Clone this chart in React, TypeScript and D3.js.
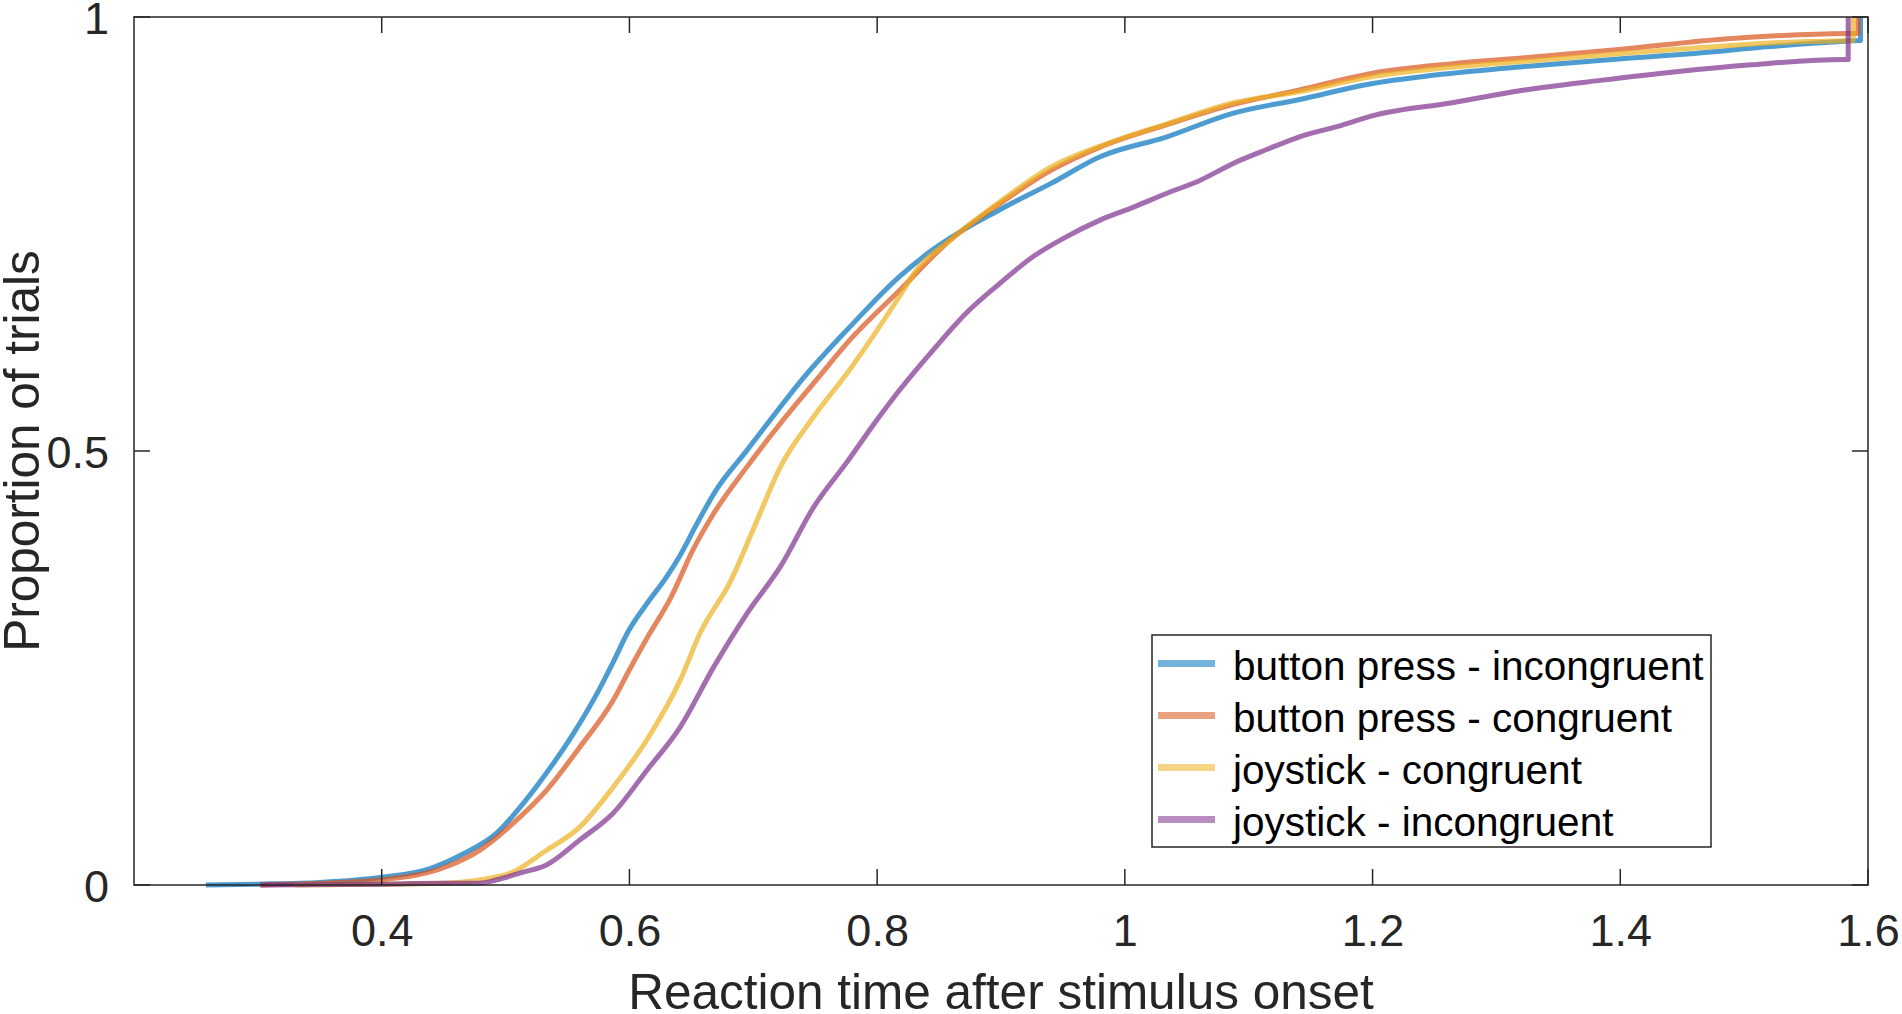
import React, { useRef, useEffect } from 'react';
import * as d3 from 'd3';

// cumulative proportion of trials vs reaction time
const bpIncongRT = [0.258, 0.30, 0.35, 0.40, 0.439, 0.466, 0.493, 0.512, 0.533, 0.555, 0.574, 0.587, 0.599, 0.614, 0.630, 0.641, 0.654, 0.670, 0.695, 0.716, 0.738, 0.778, 0.818, 0.845, 0.899, 0.940, 0.980, 1.034, 1.087, 1.141, 1.199, 1.263, 1.323, 1.401, 1.460, 1.521, 1.581, 1.594, 1.594];
const bpIncongP = [0, 0.001, 0.003, 0.009, 0.019, 0.036, 0.060, 0.090, 0.129, 0.175, 0.221, 0.257, 0.292, 0.324, 0.355, 0.380, 0.415, 0.455, 0.501, 0.540, 0.580, 0.643, 0.701, 0.732, 0.778, 0.808, 0.839, 0.862, 0.889, 0.905, 0.923, 0.935, 0.943, 0.952, 0.958, 0.966, 0.972, 0.973, 1];

const bpCongRT = [0.302, 0.35, 0.40, 0.452, 0.479, 0.506, 0.533, 0.560, 0.587, 0.600, 0.614, 0.633, 0.652, 0.668, 0.695, 0.722, 0.751, 0.778, 0.818, 0.859, 0.899, 0.940, 0.980, 1.034, 1.087, 1.141, 1.199, 1.263, 1.323, 1.401, 1.487, 1.536, 1.585, 1.592, 1.592];
const bpCongP = [0, 0.002, 0.006, 0.021, 0.040, 0.071, 0.109, 0.159, 0.213, 0.248, 0.284, 0.330, 0.388, 0.428, 0.482, 0.532, 0.582, 0.628, 0.685, 0.743, 0.785, 0.823, 0.850, 0.876, 0.899, 0.916, 0.935, 0.946, 0.953, 0.963, 0.975, 0.979, 0.981, 0.981, 1];

const joyCongRT = [0.33, 0.40, 0.45, 0.48, 0.506, 0.533, 0.560, 0.587, 0.614, 0.641, 0.657, 0.682, 0.703, 0.722, 0.749, 0.778, 0.818, 0.832, 0.859, 0.899, 0.940, 0.993, 1.034, 1.087, 1.141, 1.199, 1.263, 1.323, 1.401, 1.487, 1.536, 1.588, 1.588];
const joyCongP = [0, 0.001, 0.002, 0.006, 0.015, 0.040, 0.067, 0.113, 0.167, 0.236, 0.290, 0.351, 0.420, 0.482, 0.540, 0.594, 0.678, 0.709, 0.743, 0.787, 0.827, 0.858, 0.877, 0.901, 0.914, 0.931, 0.942, 0.949, 0.958, 0.967, 0.971, 0.973, 1];

const joyIncongRT = [0.302, 0.40, 0.45, 0.479, 0.493, 0.512, 0.533, 0.560, 0.587, 0.614, 0.641, 0.668, 0.695, 0.722, 0.749, 0.775, 0.802, 0.818, 0.845, 0.872, 0.899, 0.926, 0.953, 0.980, 1.007, 1.034, 1.061, 1.087, 1.114, 1.141, 1.172, 1.202, 1.263, 1.323, 1.384, 1.445, 1.506, 1.581, 1.584, 1.584];
const joyIncongP = [0, 0.001, 0.002, 0.002, 0.006, 0.014, 0.023, 0.052, 0.083, 0.132, 0.182, 0.251, 0.313, 0.367, 0.436, 0.486, 0.540, 0.570, 0.616, 0.659, 0.693, 0.724, 0.747, 0.766, 0.781, 0.797, 0.812, 0.831, 0.847, 0.862, 0.874, 0.887, 0.901, 0.916, 0.927, 0.937, 0.945, 0.951, 0.951, 1];

const seriesNames = ['button press - incongruent', 'button press - congruent', 'joystick - congruent', 'joystick - incongruent'];
const seriesColors = ['#0072BD', '#D95319', '#EDB120', '#7E2F8E'];
const xTicks = [0.4, 0.6, 0.8, 1, 1.2, 1.4, 1.6];
const yTicks = [0, 0.5, 1];

const App = () => {
  const ref = useRef(null);

  useEffect(() => {
    const W = 1902, H = 1014;
    const margin = { top: 17, right: 34, bottom: 129, left: 134 };
    const width = W - margin.left - margin.right;
    const height = H - margin.top - margin.bottom;
    const font = "'Liberation Sans', Arial, Helvetica, sans-serif";
    const ink = '#262626';

    d3.select(ref.current).select('svg').remove();

    const svg = d3.select(ref.current)
      .append('svg')
      .attr('width', W)
      .attr('height', H)
      .style('position', 'absolute')
      .style('left', 0)
      .style('top', 0)
      .style('background', '#fff');

    const g = svg.append('g').attr('transform', `translate(${margin.left},${margin.top})`);

    const x = d3.scaleLinear().domain([0.2, 1.6]).range([0, width]);
    const y = d3.scaleLinear().domain([0, 1]).range([height, 0]);

    const series = [
      { rt: bpIncongRT, p: bpIncongP },
      { rt: bpCongRT, p: bpCongP },
      { rt: joyCongRT, p: joyCongP },
      { rt: joyIncongRT, p: joyIncongP },
    ];

    // smooth body, then the final step up to 1 as a straight vertical
    const smooth = d3.line<number[]>()
      .x(d => d[0])
      .y(d => d[1])
      .curve(d3.curveMonotoneX);

    series.forEach((s, i) => {
      const pts = s.rt.map((t, k) => [x(t), y(s.p[k])]);
      const last = pts[pts.length - 1];
      const d = smooth(pts.slice(0, -1)) + `L${last[0]},${last[1]}`;
      g.append('path')
        .attr('d', d)
        .attr('fill', 'none')
        .attr('stroke', seriesColors[i])
        .attr('stroke-opacity', 0.7)
        .attr('stroke-width', 5)
        .attr('stroke-linejoin', 'round');
    });

    // box
    g.append('rect')
      .attr('width', width)
      .attr('height', height)
      .attr('fill', 'none')
      .attr('stroke', ink)
      .attr('stroke-width', 1.5);

    const tickLen = 16;
    const xAxis = d3.axisBottom(x).tickValues(xTicks).tickSize(0).tickPadding(0).tickFormat(d3.format('~g'));
    const xg = g.append('g').attr('transform', `translate(0,${height})`).call(xAxis);
    xg.select('.domain').remove();
    xg.selectAll('text')
      .attr('y', 61)
      .attr('dy', 0)
      .attr('font-size', 45)
      .attr('font-family', font)
      .attr('fill', ink);

    const yAxis = d3.axisLeft(y).tickValues(yTicks).tickSize(0).tickPadding(0).tickFormat(d3.format('~g'));
    const yg = g.append('g').call(yAxis);
    yg.select('.domain').remove();
    yg.selectAll('text')
      .attr('x', -25)
      .attr('dy', '0.36em')
      .attr('font-size', 45)
      .attr('font-family', font)
      .attr('fill', ink);

    // inward ticks on all four sides
    xTicks.forEach(t => {
      g.append('line').attr('x1', x(t)).attr('x2', x(t)).attr('y1', height).attr('y2', height - tickLen).attr('stroke', ink).attr('stroke-width', 1.5);
      g.append('line').attr('x1', x(t)).attr('x2', x(t)).attr('y1', 0).attr('y2', tickLen).attr('stroke', ink).attr('stroke-width', 1.5);
    });
    yTicks.forEach(t => {
      g.append('line').attr('x1', 0).attr('x2', tickLen).attr('y1', y(t)).attr('y2', y(t)).attr('stroke', ink).attr('stroke-width', 1.5);
      g.append('line').attr('x1', width).attr('x2', width - tickLen).attr('y1', y(t)).attr('y2', y(t)).attr('stroke', ink).attr('stroke-width', 1.5);
    });

    // axis labels
    g.append('text')
      .attr('x', width / 2)
      .attr('y', height + 124)
      .attr('text-anchor', 'middle')
      .attr('font-size', 49.5)
      .attr('font-family', font)
      .attr('fill', ink)
      .text('Reaction time after stimulus onset');

    svg.append('text')
      .attr('transform', `translate(39,${margin.top + height / 2}) rotate(-90)`)
      .attr('text-anchor', 'middle')
      .attr('font-size', 49.5)
      .attr('font-family', font)
      .attr('fill', ink)
      .text('Proportion of trials');

    // legend
    const lg = svg.append('g').attr('transform', 'translate(1152,635)');
    lg.append('rect')
      .attr('width', 559)
      .attr('height', 212)
      .attr('fill', '#fff')
      .attr('stroke', ink)
      .attr('stroke-width', 1.5);
    seriesNames.forEach((name, i) => {
      const cy = 28.5 + i * 52;
      lg.append('line')
        .attr('x1', 6).attr('x2', 63)
        .attr('y1', cy).attr('y2', cy)
        .attr('stroke', seriesColors[i])
        .attr('stroke-opacity', 0.55)
        .attr('stroke-width', 7);
      lg.append('text')
        .attr('x', 81)
        .attr('y', cy + 16)
        .attr('font-size', 40.5)
        .attr('font-family', font)
        .attr('fill', '#000')
        .text(name);
    });
  }, []);

  return <div ref={ref} />;
};

export default App;
